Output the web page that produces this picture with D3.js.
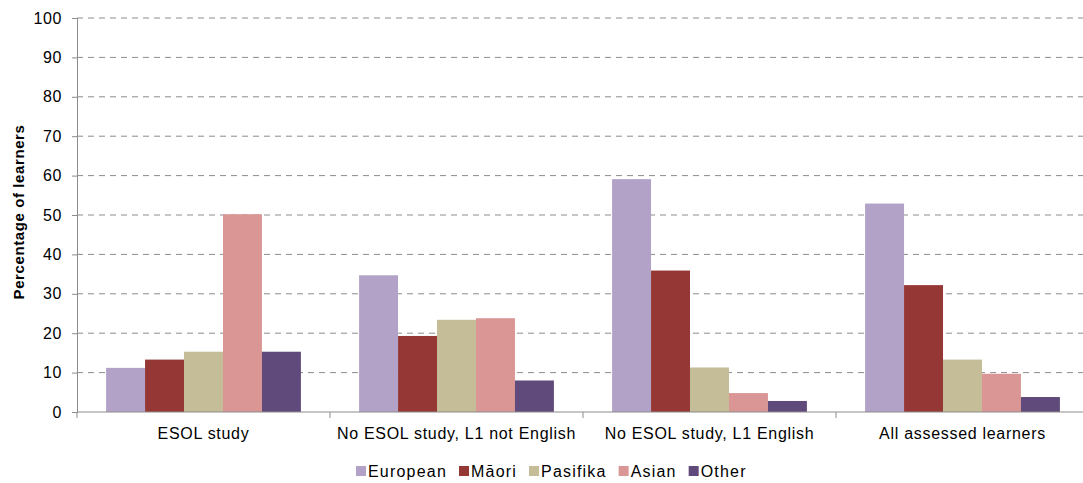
<!DOCTYPE html>
<html><head><meta charset="utf-8">
<script src="https://cdn.jsdelivr.net/npm/d3@7"></script>
<style>body{margin:0;background:#fff}svg{display:block}text{font-family:"Liberation Sans",Arial,sans-serif}</style>
</head><body><svg id="c" width="1083" height="483"></svg>
<script>
const categories = ["ESOL study","No ESOL study, L1 not English","No ESOL study, L1 English","All assessed learners"];
const seriesNames = ["European","Māori","Pasifika","Asian","Other"];
const european = [11.2, 34.7, 59.1, 52.9];
const maori    = [13.3, 19.3, 35.9, 32.2];
const pasifika = [15.3, 23.4, 11.3, 13.3];
const asian    = [50.2, 23.8, 4.8, 9.7];
const other    = [15.3, 8.0, 2.8, 3.8];
const yTicks = [0,10,20,30,40,50,60,70,80,90,100];
const colors = ["#B3A2C7","#953735","#C4BD97","#D99694","#604A7B"];
const series = [european, maori, pasifika, asian, other];

(function(){
const svg = d3.select("#c");
const mLeft = 77, mRight = 1089, mTop = 18, mBottom = 412;
const x0 = d3.scaleBand().domain(categories).range([mLeft, mRight]).paddingInner(0.23).paddingOuter(0.115);
const x1 = d3.scaleBand().domain(seriesNames).range([0, x0.bandwidth()]);
const y = d3.scaleLinear().domain([0,100]).range([mBottom, mTop]);

// grid
svg.append("g").selectAll("line").data(yTicks.filter(d=>d>0)).join("line")
  .attr("x1", mLeft).attr("x2", 1083).attr("y1", d=>y(d)).attr("y2", d=>y(d))
  .attr("stroke", "#8c8c8c").attr("stroke-width", 1).attr("stroke-dasharray", "6,5");

// bars
const g = svg.append("g");
categories.forEach((c, ci) => {
  seriesNames.forEach((s, si) => {
    g.append("rect").attr("x", x0(c) + x1(s)).attr("width", x1.bandwidth())
      .attr("y", y(series[si][ci])).attr("height", y(0) - y(series[si][ci]))
      .attr("fill", colors[si]);
  });
});

// y axis
const yAxis = d3.axisLeft(y).tickValues(yTicks).tickSize(5).tickPadding(10);
const ya = svg.append("g").attr("transform", `translate(${mLeft},0)`).call(yAxis);
ya.selectAll("path,line").attr("stroke", "#8c8c8c");
ya.selectAll("text").attr("font-size", 16).attr("letter-spacing", 0.6).attr("fill", "#000").attr("font-family", "Liberation Sans, Arial, sans-serif");

// x axis
const xa = svg.append("g").attr("transform", `translate(0,${mBottom})`);
xa.append("line").attr("x1", mLeft).attr("x2", 1083).attr("y1", 0).attr("y2", 0).attr("stroke", "#8c8c8c");
const bounds = categories.map((c,i)=> mLeft + i*(mRight-mLeft)/categories.length);
xa.selectAll("line.t").data(bounds).join("line").attr("class","t")
  .attr("x1", d=>d).attr("x2", d=>d).attr("y1", 0).attr("y2", 6).attr("stroke", "#8c8c8c");
xa.selectAll("text").data(categories).join("text")
  .attr("x", c => x0(c) + x0.bandwidth()/2).attr("y", 27)
  .attr("text-anchor", "middle").attr("font-size", 16).attr("letter-spacing", 0.7).attr("fill", "#000").text(d=>d);

// y title
svg.append("text").attr("transform", `translate(24,212) rotate(-90)`)
  .attr("text-anchor", "middle").attr("font-size", 15).attr("letter-spacing", 0.6).attr("font-weight", "bold").text("Percentage of learners");

// legend
const leg = svg.append("g");
let lx = 0;
seriesNames.forEach((s,i)=>{
  const it = leg.append("g");
  it.append("rect").attr("x", 0).attr("y", -11).attr("width", 10).attr("height", 10).attr("fill", colors[i]);
  const t = it.append("text").attr("x", 12).attr("y", 0).attr("font-size", 16).attr("letter-spacing", 1.2).text(s);
  const w = 12 + t.node().getComputedTextLength() + 12;
  it.attr("transform", `translate(${lx},0)`);
  lx += w;
});
leg.attr("transform", `translate(356,477)`);
})();
</script></body></html>
